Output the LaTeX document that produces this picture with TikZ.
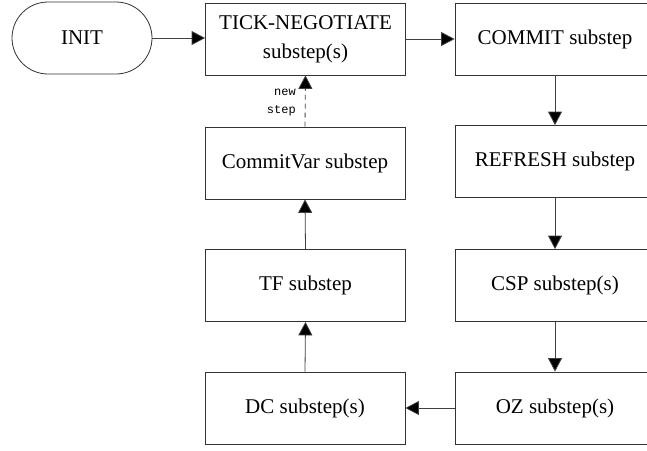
\documentclass[tikz,border=0pt]{standalone}
\usepackage{fontspec}
\setmainfont{Liberation Serif}
\setmonofont{Liberation Mono}
\usetikzlibrary{arrows.meta}
\begin{document}
\begin{tikzpicture}[x=1pt,y=-1pt,
  stepbox/.style={draw=black!80, line width=0.8pt, fill=white,
    minimum width=200pt, minimum height=72pt, inner sep=0pt,
    align=center, font=\fontsize{21}{29}\selectfont},
  startnode/.style={draw=black!80, line width=0.8pt, rounded corners=36pt,
    minimum width=140pt, minimum height=72pt, inner sep=0pt,
    font=\fontsize{21}{29}\selectfont},
  flow/.style={draw=black!75, line width=0.8pt,
    -{Triangle[length=13.5pt,width=14pt,fill=black]}},
  steplabel/.style={font=\ttfamily\fontsize{12}{18}\selectfont, align=right,
    inner sep=0pt, anchor=east}
]
  \useasboundingbox (0,0) rectangle (647,450);

  % left column
  \node[startnode] (init) at (82,38) {INIT};
  \node[stepbox] (tick) at (305.5,39) {TICK-NEGOTIATE\\substep(s)};
  \node[stepbox] (cvar) at (305,163) {CommitVar substep};
  \node[stepbox] (tf)   at (305.5,285.5) {TF substep};
  \node[stepbox] (dc)   at (305,408) {DC substep(s)};

  % right column (runs past the page edge)
  \node[stepbox] (commit)  at (555,39) {COMMIT substep};
  \node[stepbox] (refresh) at (555,161.5) {REFRESH substep};
  \node[stepbox] (csp)     at (555,285.5) {CSP substep(s)};
  \node[stepbox] (oz)      at (555,408) {OZ substep(s)};

  % connectors
  \draw[flow] (init.east) -- (init.east -| tick.west);
  \draw[flow] (tick.east) -- (tick.east -| commit.west);
  \draw[flow] (commit.south) -- (refresh.north);
  \draw[flow] (refresh.south) -- (csp.north);
  \draw[flow] (csp.south) -- (oz.north);
  \draw[flow] (oz.west) -- (oz.west -| dc.east);
  \draw[flow] (dc.north) -- (tf.south);
  \draw[flow] (tf.north) -- (cvar.south);
  \draw[flow, dash pattern=on 5pt off 4pt] (cvar.north) -- (tick.south);

  \node[steplabel] (newstep) at (296,103) {new\\step};
\end{tikzpicture}
\end{document}
